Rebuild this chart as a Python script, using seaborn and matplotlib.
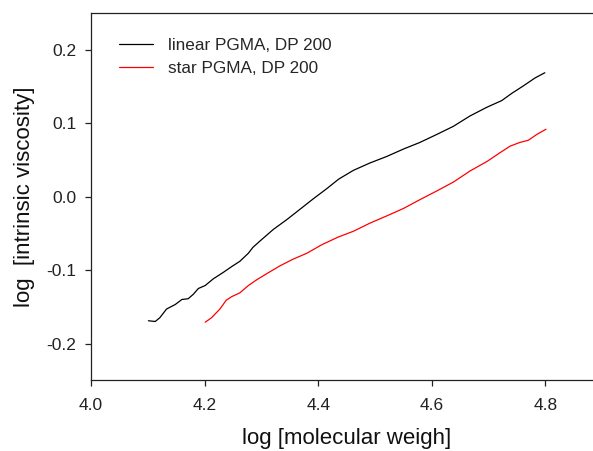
import pandas as pd
import numpy as np
import matplotlib
matplotlib.use("Agg")
import matplotlib.pyplot as plt
import seaborn as sns


# Werte
linear_x = [4.101, 4.113, 4.121, 4.133, 4.148, 4.160, 4.171, 4.180, 4.189, 4.201,
            4.215, 4.233, 4.248, 4.262, 4.277, 4.285, 4.298, 4.321, 4.345, 4.368,
            4.391, 4.415, 4.436, 4.462, 4.491, 4.521, 4.550, 4.579, 4.609, 4.638,
            4.667, 4.697, 4.723, 4.741, 4.761, 4.782, 4.799]
linear_y = [-0.169, -0.170, -0.165, -0.153, -0.147, -0.140, -0.139, -0.133, -0.125, -0.121,
            -0.112, -0.103, -0.095, -0.088, -0.077, -0.069, -0.060, -0.0445, -0.031, -0.017,
            -0.003, 0.011, 0.024, 0.036, 0.046, 0.055, 0.065, 0.074, 0.085, 0.096,
            0.110, 0.122, 0.131, 0.141, 0.151, 0.162, 0.169]

star_x = [4.201, 4.212, 4.227, 4.238, 4.248, 4.262, 4.277, 4.292, 4.309, 4.333,
          4.356, 4.380, 4.406, 4.435, 4.462, 4.491, 4.521, 4.550, 4.579, 4.609,
          4.638, 4.667, 4.697, 4.720, 4.738, 4.755, 4.770, 4.785, 4.801]
star_y = [-0.171, -0.165, -0.153, -0.141, -0.136, -0.131, -0.121, -0.113, -0.105, -0.094,
          -0.085, -0.077, -0.0655, -0.055, -0.047, -0.036, -0.026, -0.016, -0.004, 0.008,
          0.020, 0.035, 0.048, 0.060, 0.069, 0.074, 0.077, 0.085, 0.092]

serien = ["linear PGMA, DP 200", "star PGMA, DP 200"]
farben = ["black", "red"]

x_ticks = [4.0, 4.2, 4.4, 4.6, 4.8]
y_ticks = [-0.2, -0.1, 0.0, 0.1, 0.2]


df = pd.concat([
    pd.DataFrame({"x": linear_x, "y": linear_y, "serie": serien[0]}),
    pd.DataFrame({"x": star_x, "y": star_y, "serie": serien[1]}),
])

sns.set_style("ticks")
plt.rcParams["font.family"] = ["Liberation Sans", "DejaVu Sans"]

fig = plt.figure(figsize=(5.93, 4.51), dpi=100)
# Achse ragt rechts etwas aus dem Bild (wie im Original abgeschnitten)
ax = fig.add_axes([0.1535, 0.157, 0.862, 0.8135])

sns.lineplot(data=df, x="x", y="y", hue="serie", palette=farben,
             sort=False, estimator=None, linewidth=0.9, ax=ax)

ax.set_xlim(4.0, 4.9)
ax.set_ylim(-0.25, 0.25)
ax.set_xticks(x_ticks)
ax.set_xticklabels([f"{v:.1f}" for v in x_ticks])
ax.set_yticks(y_ticks)
ax.set_yticklabels([f"{v:.1f}" for v in y_ticks])

for s in ax.spines.values():
    s.set_linewidth(0.9)
    s.set_color("#222222")
ax.spines["right"].set_visible(False)
ax.tick_params(direction="out", length=4.5, width=0.9, colors="#222222",
               labelsize=12.5, top=False, right=False)
ax.tick_params(axis="x", pad=8)
ax.tick_params(axis="y", pad=6)

ax.set_xlabel("log [molecular weigh]", fontsize=16, labelpad=11, color="#111111")
ax.set_ylabel("log  [intrinsic viscosity]", fontsize=16, labelpad=8, color="#111111")

ax.legend(title=None, frameon=False, loc="upper left", bbox_to_anchor=(0.041, 0.951),
          fontsize=12.3, handlelength=2.0, handletextpad=0.9, labelspacing=0.46,
          borderaxespad=0)

fig.savefig("out.png", dpi=100)
